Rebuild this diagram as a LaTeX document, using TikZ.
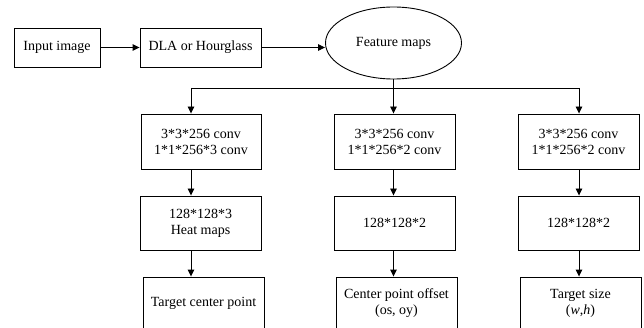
\documentclass[tikz,border=0pt]{standalone}
\usepackage{fontspec}
\setmainfont{Liberation Serif}
\usetikzlibrary{arrows.meta,shapes.geometric}
\begin{document}
\begin{tikzpicture}[x=1pt,y=-1pt,
  every node/.style={font=\fontsize{14}{16}\selectfont},
  box/.style={draw,line width=0.9pt,inner sep=0pt,align=center},
  oval/.style={draw,ellipse,line width=0.9pt,inner sep=0pt},
  arr/.style={line width=0.9pt,-{Triangle[length=7pt,width=6.5pt]}},
  ln/.style={line width=0.9pt}]
\useasboundingbox (0,0) rectangle (644,328);
% top row
\node[box,minimum width=86pt,minimum height=39pt] (inp) at (57,47.5) {Input image};
\node[box,minimum width=121pt,minimum height=39pt] (dla) at (200.5,47.5) {DLA or Hourglass};
\node[oval,minimum width=136pt,minimum height=72pt] (fm) at (393.5,43) {Feature maps};
% column positions and bus
\coordinate (x1) at (191,88);
\coordinate (x2) at (393.5,88);
\coordinate (x3) at (579,88);
% row 1
\node[box,minimum width=120pt,minimum height=55pt] (a1) at (201,141.5) {3*3*256 conv\\1*1*256*3 conv};
\node[box,minimum width=121pt,minimum height=55pt] (b1) at (394.5,141.5) {3*3*256 conv\\1*1*256*2 conv};
\node[box,minimum width=121pt,minimum height=55pt] (c1) at (578.5,141.5) {3*3*256 conv\\1*1*256*2 conv};
% row 2
\node[box,minimum width=121pt,minimum height=54pt] (a2) at (200.5,223) {128*128*3\\Heat maps};
\node[box,minimum width=121pt,minimum height=54pt] (b2) at (394.5,223) {128*128*2};
\node[box,minimum width=121pt,minimum height=54pt] (c2) at (578.5,223) {128*128*2};
% row 3
\node[box,minimum width=121pt,minimum height=53pt] (a3) at (203.5,303.5) {Target center point};
\node[box,minimum width=121pt,minimum height=53pt] (b3) at (396.5,303.5) {Center point offset\\(os, oy)};
\node[box,minimum width=121pt,minimum height=53pt] (c3) at (580.5,303.5) {Target size\\(\textit{w},\textit{h})};
% connectors
\draw[arr] (inp.east) -- (dla.west);
\draw[arr] (dla.east) -- (dla.east -| fm.west);
\draw[ln] (fm.south) -- (x2);
\draw[ln] (x1) -- (x3);
\draw[arr] (x1) -- (a1.north -| x1);
\draw[arr] (x2) -- (b1.north -| x2);
\draw[arr] (x3) -- (c1.north -| x3);
\draw[arr] (a1.south -| x1) -- (a2.north -| x1);
\draw[arr] (b1.south -| x2) -- (b2.north -| x2);
\draw[arr] (c1.south -| x3) -- (c2.north -| x3);
\draw[arr] (a2.south -| x1) -- (a3.north -| x1);
\draw[arr] (b2.south -| x2) -- (b3.north -| x2);
\draw[arr] (c2.south -| x3) -- (c3.north -| x3);
\end{tikzpicture}
\end{document}
